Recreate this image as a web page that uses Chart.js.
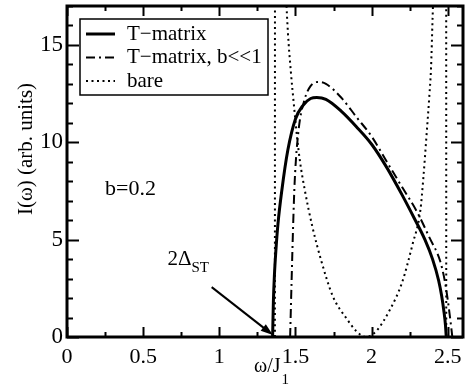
<!DOCTYPE html>
<html>
<head>
<meta charset="utf-8">
<script src="https://cdn.jsdelivr.net/npm/chart.js@4.4.0/dist/chart.umd.min.js"></script>
<style>
    html, body { margin: 0; padding: 0; background: #fff; }
    #wrap { width: 471px; height: 388px; position: relative; }
</style>
</head>
<body>
<div id="wrap"><canvas id="spectrumChart" width="471" height="388"></canvas></div>
<script>
// T-matrix result (solid)
const tmatOmega = [1.35, 1.355, 1.362, 1.372, 1.385, 1.41, 1.45, 1.50, 1.55, 1.60, 1.64, 1.70, 1.80, 1.90, 2.00, 2.10, 2.20, 2.28, 2.35, 2.40, 2.44, 2.46, 2.475, 2.485, 2.49];
const tmatValue = [0, 1.8, 3.2, 4.5, 5.8, 7.5, 9.6, 11.2, 11.9, 12.25, 12.3, 12.2, 11.6, 10.8, 9.9, 8.7, 7.3, 6.1, 5.0, 4.0, 2.9, 2.1, 1.3, 0.6, 0];
// T-matrix, b<<1 (dash-dot)
const smallBOmega = [1.465, 1.475, 1.485, 1.495, 1.52, 1.56, 1.60, 1.65, 1.70, 1.80, 1.90, 2.00, 2.10, 2.20, 2.30, 2.38, 2.45, 2.48, 2.50, 2.515, 2.53];
const smallBValue = [0, 3.0, 5.8, 8.0, 10.6, 12.2, 12.9, 13.1, 13.0, 12.3, 11.3, 10.3, 9.0, 7.7, 6.4, 5.1, 3.9, 2.9, 1.9, 1.0, 0];
// bare (dotted), goes off scale near both band edges
const bareOmega = [1.365, 1.366, 1.40, 1.43, 1.45, 1.47, 1.49, 1.51, 1.53, 1.56, 1.61, 1.67, 1.745, 1.84, 1.90, 1.96, 2.03, 2.12, 2.20, 2.27, 2.32, 2.34, 2.36, 2.38, 2.39, 2.40, 2.43, 2.47, 2.489, 2.49];
const bareValue = [0, 40, 26, 19, 15.7, 13.6, 11.9, 10.3, 9.0, 7.6, 5.7, 3.9, 2.1, 0.9, 0.3, 0, 0.3, 1.4, 2.8, 4.8, 6.5, 8.2, 10.3, 12.5, 13.8, 16.3, 24, 32, 40, 0];

const xTicks = [0, 0.5, 1, 1.5, 2, 2.5];
const yTicks = [0, 5, 10, 15];
const seriesLabels = ['T\u2212matrix', 'T\u2212matrix, b<<1', 'bare'];

const SERIF = 'Liberation Serif';
Chart.defaults.font.family = SERIF;

function toPoints(xs, ys) {
    return xs.map((x, i) => ({ x: x, y: ys[i] }));
}

function serifFont(size) {
    return size + 'px "' + SERIF + '"';
}

// inward ticks on all four sides plus the frame
const framePlugin = {
    id: 'frameTicks',
    afterDatasetsDraw(chart) {
        const ctx = chart.ctx;
        const a = chart.chartArea;
        const xs = chart.scales.x, ys = chart.scales.y;
        ctx.save();
        ctx.strokeStyle = '#000';
        ctx.lineWidth = 2;
        for (let v = 0; v <= 2.6 + 1e-9; v += 0.25) {
            const px = Math.round(xs.getPixelForValue(v)) + 0.5;
            const major = Math.abs(v * 2 - Math.round(v * 2)) < 1e-6;
            const len = major ? 10 : 5;
            ctx.beginPath();
            ctx.moveTo(px, a.bottom); ctx.lineTo(px, a.bottom - len);
            ctx.moveTo(px, a.top); ctx.lineTo(px, a.top + len);
            ctx.stroke();
        }
        for (let v = 0; v <= 17; v += 1) {
            const py = Math.round(ys.getPixelForValue(v)) + 0.5;
            const len = (v % 5 === 0) ? 12 : 6;
            ctx.beginPath();
            ctx.moveTo(a.left, py); ctx.lineTo(a.left + len, py);
            ctx.moveTo(a.right, py); ctx.lineTo(a.right - len, py);
            ctx.stroke();
        }
        ctx.lineWidth = 3;
        ctx.strokeRect(a.left, a.top, a.right - a.left, a.bottom - a.top);
        ctx.restore();
    }
};

// legend box, annotation, axis titles
const extrasPlugin = {
    id: 'extras',
    afterDraw(chart) {
        const ctx = chart.ctx;
        const a = chart.chartArea;
        const xs = chart.scales.x, ys = chart.scales.y;
        ctx.save();
        ctx.fillStyle = '#000';
        ctx.strokeStyle = '#000';

        // legend
        const bx = a.left + 13, by = a.top + 13, bw = 188, bh = 76;
        ctx.fillStyle = '#fff';
        ctx.fillRect(bx, by, bw, bh);
        ctx.lineWidth = 1.5;
        ctx.strokeRect(bx, by, bw, bh);
        ctx.fillStyle = '#000';
        ctx.font = serifFont(21);
        ctx.textBaseline = 'middle';
        chart.data.datasets.forEach((ds, i) => {
            const ly = by + 15 + i * 23.5;
            ctx.save();
            ctx.lineWidth = ds.borderWidth;
            ctx.setLineDash(ds.borderDash || []);
            ctx.beginPath();
            ctx.moveTo(bx + 6, ly); ctx.lineTo(bx + 35, ly);
            ctx.stroke();
            ctx.restore();
            ctx.fillText(ds.label, bx + 47, ly);
        });

        // b=0.2
        ctx.textBaseline = 'alphabetic';
        ctx.font = serifFont(22);
        ctx.fillText('b=0.2', xs.getPixelForValue(0.25), ys.getPixelForValue(7.3));

        // 2Δ_ST label with arrow
        const tx = xs.getPixelForValue(0.66), ty = ys.getPixelForValue(3.7);
        ctx.font = serifFont(21);
        ctx.fillText('2\u0394', tx, ty);
        const w2 = ctx.measureText('2\u0394').width;
        ctx.font = serifFont(15);
        ctx.fillText('ST', tx + w2, ty + 7);
        const x0 = xs.getPixelForValue(0.95), y0 = ys.getPixelForValue(2.56);
        const x1 = xs.getPixelForValue(1.352), y1 = ys.getPixelForValue(0.1);
        const ang = Math.atan2(y1 - y0, x1 - x0);
        ctx.lineWidth = 2;
        ctx.beginPath();
        ctx.moveTo(x0, y0);
        ctx.lineTo(x1 - 10 * Math.cos(ang), y1 - 10 * Math.sin(ang));
        ctx.stroke();
        ctx.beginPath();
        ctx.moveTo(x1, y1);
        ctx.lineTo(x1 - 13 * Math.cos(ang - 0.33), y1 - 13 * Math.sin(ang - 0.33));
        ctx.lineTo(x1 - 13 * Math.cos(ang + 0.33), y1 - 13 * Math.sin(ang + 0.33));
        ctx.closePath();
        ctx.fill();

        // x title: ω/J1
        ctx.font = serifFont(20);
        const xt = '\u03c9/J';
        const xtw = ctx.measureText(xt).width;
        ctx.fillText(xt, 254, 372);
        ctx.font = serifFont(15);
        ctx.fillText('1', 254 + xtw + 1, 384);

        // y title
        ctx.font = serifFont(21);
        ctx.translate(32, 149);
        ctx.rotate(-Math.PI / 2);
        ctx.textAlign = 'center';
        ctx.fillText('I(\u03c9) (arb. units)', 0, 0);
        ctx.restore();
    }
};

document.addEventListener('DOMContentLoaded', function() {
    initializeChart();
});

function initializeChart() {
    const ctx = document.getElementById('spectrumChart');
    new Chart(ctx, {
        type: 'line',
        data: {
            datasets: [
                {
                    label: seriesLabels[0],
                    data: toPoints(tmatOmega, tmatValue),
                    borderColor: '#000',
                    borderWidth: 3,
                    pointRadius: 0,
                    cubicInterpolationMode: 'monotone',
                    fill: false
                },
                {
                    label: seriesLabels[1],
                    data: toPoints(smallBOmega, smallBValue),
                    borderColor: '#000',
                    borderWidth: 2,
                    borderDash: [9, 4, 2, 4],
                    pointRadius: 0,
                    cubicInterpolationMode: 'monotone',
                    fill: false
                },
                {
                    label: seriesLabels[2],
                    data: toPoints(bareOmega, bareValue),
                    borderColor: '#000',
                    borderWidth: 2,
                    borderDash: [2, 3.5],
                    pointRadius: 0,
                    cubicInterpolationMode: 'monotone',
                    fill: false
                }
            ]
        },
        options: {
            responsive: false,
            animation: false,
            layout: { padding: { top: 6, right: 8, left: 0, bottom: 0 } },
            plugins: {
                legend: { display: false },
                tooltip: { enabled: false }
            },
            scales: {
                x: {
                    type: 'linear',
                    min: 0,
                    max: 2.6,
                    afterFit: s => {
                        s.height = 51;
                        s.paddingLeft = 0;
                        s.paddingRight = 0;
                    },
                    afterBuildTicks: s => { s.ticks = xTicks.map(v => ({ value: v })); },
                    grid: { display: false, drawTicks: false },
                    border: { display: false },
                    ticks: {
                        padding: 7,
                        color: '#000',
                        maxRotation: 0,
                        callback: v => String(v),
                        font: { family: SERIF, size: 22 }
                    }
                },
                y: {
                    min: 0,
                    max: 17,
                    afterFit: s => {
                        s.width = 67;
                        s.paddingTop = 0;
                        s.paddingBottom = 0;
                    },
                    afterBuildTicks: s => { s.ticks = yTicks.map(v => ({ value: v })); },
                    grid: { display: false, drawTicks: false },
                    border: { display: false },
                    ticks: {
                        padding: 4,
                        color: '#000',
                        callback: v => String(v),
                        font: { family: SERIF, size: 23 }
                    }
                }
            }
        },
        plugins: [framePlugin, extrasPlugin]
    });
}
</script>
</body>
</html>
